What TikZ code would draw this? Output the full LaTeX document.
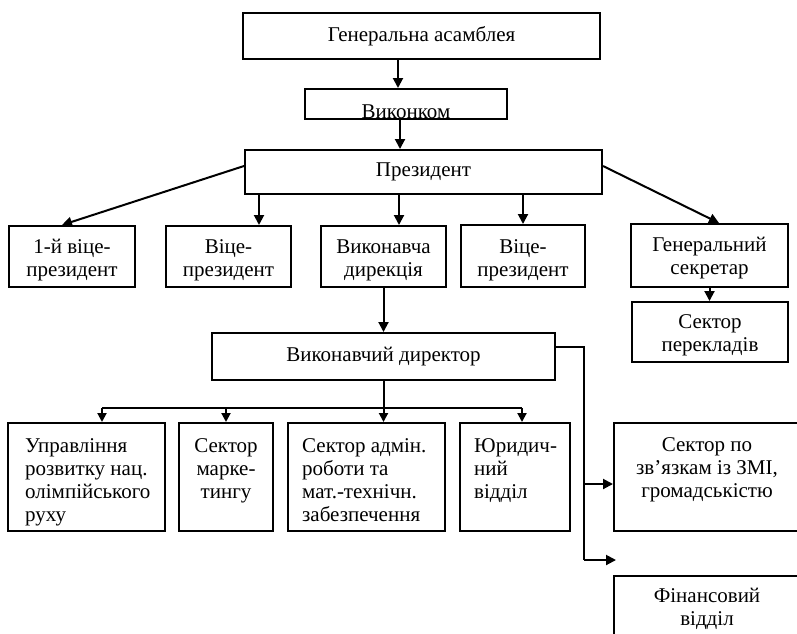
\documentclass[tikz,border=0pt]{standalone}
\usepackage{fontspec}
\setmainfont{Liberation Serif}
\usetikzlibrary{arrows.meta}
\newcommand\dgfont{\fontsize{21}{23}\selectfont}
\begin{document}
\begin{tikzpicture}[x=1pt,y=-1pt,
  box/.style={draw=black, line width=2pt, inner sep=0pt},
  txt/.style={inner sep=0pt, font=\dgfont, align=center},
  ln/.style={line width=2pt},
  arr/.style={line width=2pt, -{Triangle[length=10pt,width=10pt]}},
  sarr/.style={line width=2pt, -{Triangle[length=9pt,width=9pt]}}]
\useasboundingbox (0,0) rectangle (797,633);

% top part
\node[box, minimum width=357pt, minimum height=46pt] (ga) at (421.5,36) {};
\node[txt] (gat) at (ga.center) {Генеральна асамблея};
\node[box, minimum width=202pt, minimum height=30pt] (vk) at (406,104) {};
\node[txt, anchor=base] (vkt) at (406,118) {Виконком};
\node[box, minimum width=357pt, minimum height=44pt] (pr) at (423.5,172) {};
\node[txt] (prt) at (pr.center) {Президент};

% first row
\node[box, minimum width=126pt, minimum height=61pt] (v1) at (72,256.5) {};
\node[box, minimum width=125pt, minimum height=61pt] (v2) at (228.5,256.5) {};
\node[box, minimum width=125pt, minimum height=61pt] (vd) at (383.5,256.5) {};
\node[box, minimum width=124pt, minimum height=62pt] (v3) at (523,256) {};
\node[box, minimum width=157pt, minimum height=63pt] (gs) at (709.5,255.5) {};
\node[box, minimum width=156pt, minimum height=60pt] (sp) at (710,332) {};
\node[txt] (v1t) at ([yshift=-4pt]v1.center) {1-й віце-\\президент};
\node[txt] (v2t) at ([yshift=-4pt]v2.center) {Віце-\\президент};
\node[txt] (vdt) at ([yshift=-4pt]vd.center) {Виконавча\\дирекція};
\node[txt] (v3t) at ([yshift=-4pt]v3.center) {Віце-\\президент};
\node[txt] (gst) at ([yshift=-3pt]gs.center) {Генеральний\\секретар};
\node[txt] (spt) at ([yshift=-3pt]sp.center) {Сектор\\перекладів};

\node[box, minimum width=343pt, minimum height=47pt] (vdir) at (383.5,356.5) {};
\node[txt] (vdirt) at (vdir.center) {Виконавчий директор};

% second row
\node[box, minimum width=157pt, minimum height=108pt] (u1) at (86.5,477) {};
\node[box, minimum width=94pt, minimum height=108pt] (u2) at (226,477) {};
\node[box, minimum width=157pt, minimum height=108pt] (u3) at (366.5,477) {};
\node[box, minimum width=110pt, minimum height=108pt] (u4) at (515,477) {};
\node[box, minimum width=186pt, minimum height=108pt] (zmi) at (707,477) {};
\node[box, minimum width=186pt, minimum height=70pt] (fin) at (707,611) {};

\node[txt, anchor=north west, align=left] (u1t) at (25,436) {\strut Управління\\розвитку нац.\\олімпійського\\руху};
\node[txt, anchor=north] (u2t) at (226,436) {\strut Сектор\\марке-\\тингу};
\node[txt, anchor=north west, align=left] (u3t) at (302,436) {\strut Сектор адмін.\\роботи та\\мат.-технічн.\\забезпечення};
\node[txt, anchor=north west, align=left] (u4t) at (474,436) {\strut Юридич-\\ний\\відділ};
\node[txt, anchor=north] (zmit) at (707,435) {\strut Сектор по\\зв’язкам із ЗМІ,\\громадськістю};
\node[txt, anchor=north] (fint) at (707,586) {\strut Фінансовий\\відділ};

% connectors
\draw[arr] ([xshift=-23.5pt]ga.south) -- ([xshift=-8pt]vk.north);
\draw[arr] ([xshift=-6pt]vk.south) -- ([xshift=-23.5pt]pr.north);
\draw[arr] ([yshift=6pt]pr.west) -- ([xshift=-10pt]v1.north);
\draw[arr] ([xshift=-164.5pt]pr.south) -- ([xshift=30.5pt]v2.north);
\draw[arr] ([xshift=-24.5pt]pr.south) -- ([xshift=15.5pt]vd.north);
\draw[arr] ([xshift=99.5pt]pr.south) -- (v3.north);
\draw[arr] ([yshift=6pt]pr.east) -- ([xshift=9.5pt]gs.north);
\draw[arr] (gs.south) -- (gs.south |- sp.north);
\draw[arr] (vd.south) -- (vdir.north);

\coordinate (bl) at (102,408);
\coordinate (br) at (522,408);
\coordinate (bm) at (383.5,408);
\draw[ln] (vdir.south) -- (bm);
\draw[ln] (bl) -- (br);
\draw[sarr] (bl) -- (bl |- u1.north);
\draw[sarr] (u2.north |- bm) -- (u2.north);
\draw[sarr] (bm) -- (bm |- u3.north);
\draw[sarr] (br) -- (br |- u4.north);

\coordinate (rt) at (584,347);
\coordinate (rm) at (584,484);
\coordinate (rb) at (584,560);
\coordinate (fe) at (616,560);
\draw[ln] ([yshift=9.5pt]vdir.east) -- (rt) -- (rb);
\draw[arr] (rm) -- (zmi.west |- rm);
\draw[arr] (rb) -- (fe);
\end{tikzpicture}
\end{document}
